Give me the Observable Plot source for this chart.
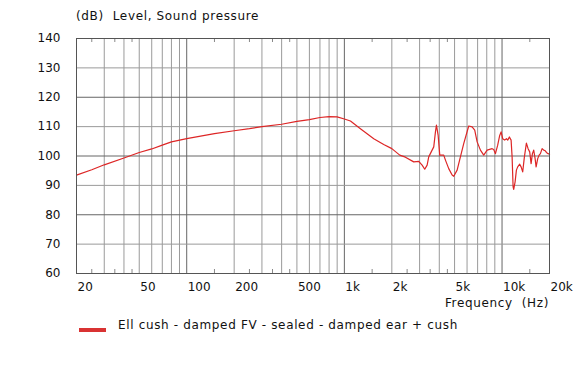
<!DOCTYPE html>
<html>
<head>
<meta charset="utf-8">
<script src="https://cdn.jsdelivr.net/npm/d3@7"></script>
<script src="https://cdn.jsdelivr.net/npm/@observablehq/plot@0.6"></script>
<style>
  html, body { margin: 0; padding: 0; background: #fff; }
  #wrap { position: relative; width: 578px; height: 366px; font-family: "DejaVu Sans", Verdana, sans-serif; font-size: 12px; color: #111; }
  #chart { position: absolute; left: 0; top: 0; }
  .lbl { position: absolute; white-space: pre; line-height: 14px; letter-spacing: 0.65px; }
  #title { left: 76px; top: 9px; }
  #xlab { right: 29px; top: 296px; }
  #legend { left: 79px; top: 318px; }
  #legend .sw { position: absolute; left: 0; top: 10px; width: 27px; height: 4px; background: #d93333; }
  #legend .tx { position: absolute; left: 39px; top: 0; white-space: pre; }
</style>
</head>
<body>
<div id="wrap">
  <div id="chart"></div>
  <div class="lbl" id="title">(dB)  Level, Sound pressure</div>
  <div class="lbl" id="xlab">Frequency  (Hz)</div>
  <div class="lbl" id="legend"><div class="sw"></div><div class="tx">Ell cush - damped FV - sealed - damped ear + cush</div></div>
</div>
<script>
// Measured curve: frequency (Hz) and level (dB)
const freq = [20, 25, 30, 40, 50, 60, 70, 80, 100, 150, 200, 250, 300, 400, 500, 600, 700, 800, 900, 1000,
  1093, 1264, 1536, 1776, 2000, 2245, 2439, 2754, 2963, 3113, 3234, 3349, 3428, 3689, 3781, 3837, 3934, 4027,
  4268, 4376, 4591, 4825, 4939, 5190, 5445, 5714, 6148, 6460, 6711, 6951, 7295, 7654, 8044, 8651, 8856, 9079,
  9386, 9665, 9865, 10097, 10396, 10658, 10862, 11135, 11415, 11583, 11753, 11857, 12102, 12333, 12570, 12942,
  13210, 13523, 13862, 14273, 14632, 14979, 15287, 15582, 15880, 16209, 16447, 16837, 17185, 17514, 17955,
  18379, 18759, 19120, 19600, 20000];
const level = [93.5, 95.3, 97.0, 99.3, 101.2, 102.4, 103.7, 104.8, 105.9, 107.6, 108.6, 109.3, 110.0, 110.8, 111.8, 112.4, 113.1, 113.4, 113.3, 112.6,
  111.9, 109.3, 105.9, 103.9, 102.5, 100.3, 99.6, 98.0, 98.2, 96.9, 95.5, 96.9, 99.7, 103.1, 108.2, 110.5, 107.0, 100.3,
  100.3, 98.6, 95.7, 93.5, 93.1, 95.2, 99.7, 104.2, 110.2, 109.9, 108.8, 104.8, 102.0, 100.3, 102.0, 102.5, 102.2, 100.8,
  103.7, 107.0, 108.2, 105.9, 105.4, 105.9, 105.4, 106.5, 105.4, 99.7, 89.5, 88.6, 91.2, 95.2, 96.3, 97.2,
  96.3, 94.6, 99.7, 104.4, 102.5, 101.4, 97.4, 100.8, 102.0, 99.1, 96.3, 99.1, 100.3, 100.8, 102.5,
  102.0, 101.8, 101.2, 100.8, 100.6];

// Axis ticks and grid
const xTickValues = [20, 50, 100, 200, 500, 1000, 2000, 5000, 10000, 20000];
const xTickLabels = ["20", "50", "100", "200", "500", "1k", "2k", "5k", "10k", "20k"];
const yTickValues = [60, 70, 80, 90, 100, 110, 120, 130, 140];
const xGridLight = [30, 40, 50, 60, 70, 80, 90, 200, 300, 400, 500, 600, 700, 800, 900, 2000, 3000, 4000, 5000, 6000, 7000, 8000, 9000];
const xGridDark = [100, 1000, 10000];
const yGridLight = [70, 90, 110, 130];
const yGridDark = [80, 100, 120];
const xMinorTicks = [25, 35, 45, 150, 250, 350, 450, 1500, 2500, 3500, 4500, 15000];

const data = freq.map((f, i) => ({f, db: level[i]}));
const xLabels = xTickValues.map((v, i) => ({v, t: xTickLabels[i]}));

const frameH = 300 - 38 - 27;
const chart = Plot.plot({
  width: 578,
  height: 300,
  marginTop: 38,
  marginBottom: 27,
  marginLeft: 76,
  marginRight: 29,
  x: {type: "log", domain: [20, 20000], axis: null},
  y: {domain: [60, 140]},
  style: {fontFamily: "DejaVu Sans, Verdana, sans-serif", fontSize: "12px", color: "#111", background: "white"},
  marks: [
    Plot.ruleX(xGridLight, {stroke: "#9a9a9a"}),
    Plot.ruleX(xGridDark, {stroke: "#666"}),
    Plot.ruleY(yGridLight, {stroke: "#9a9a9a"}),
    Plot.ruleY(yGridDark, {stroke: "#666"}),
    Plot.ruleX(xMinorTicks, {stroke: "#888", insetBottom: frameH - 4}),
    Plot.ruleX(xMinorTicks, {stroke: "#888", insetTop: frameH - 4}),
    Plot.line(data, {x: "f", y: "db", stroke: "#dd2626", strokeWidth: 1.2}),
    Plot.frame({stroke: "#555"}),
    Plot.text(xLabels, {x: "v", text: "t", frameAnchor: "bottom", lineAnchor: "middle", textAnchor: "start", dx: 1, dy: 14, fill: "#111"}),
    Plot.axisY(yTickValues, {tickSize: 0, tickPadding: 16, label: null})
  ]
});
document.getElementById("chart").appendChild(chart);
</script>
</body>
</html>
